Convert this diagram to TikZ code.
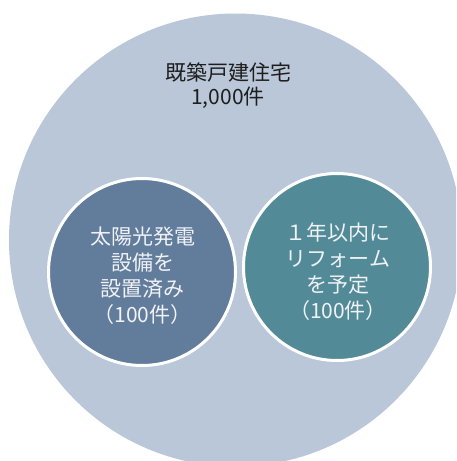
\documentclass[tikz,border=0pt]{standalone}
\usepackage{fontspec}
\setmainfont{Noto Sans CJK JP}
\definecolor{bigfill}{RGB}{185,199,216}
\definecolor{leftfill}{RGB}{98,124,155}
\definecolor{rightfill}{RGB}{82,139,151}
\definecolor{darktext}{RGB}{30,30,30}
\definecolor{lighttext}{RGB}{240,242,245}
\tikzset{
  bigcircle/.style={circle, fill=bigfill, inner sep=0pt, minimum size=453pt},
  subcircle/.style={circle, draw=white, line width=3pt, inner sep=0pt, minimum size=187pt},
  toplabel/.style={align=center, text=darktext, font=\fontsize{21}{24}\selectfont, inner sep=0pt},
  sublabel/.style={align=center, text=lighttext, font=\fontsize{21}{26}\selectfont, inner sep=0pt}
}
\begin{document}
\begin{tikzpicture}[x=1pt,y=-1pt]
\useasboundingbox (0,0) rectangle (456,461);
\clip (0,0) rectangle (456,461);
\fill[white] (0,0) rectangle (456,461);
\node[bigcircle] (all) at (235.5,240) {};
\node[subcircle, fill=leftfill] (solar) at (142,272) {};
\node[subcircle, fill=rightfill] (reform) at (337,267) {};
\node[toplabel] (alltext) at (228,86) {既築戸建住宅\\1,000件};
\node[sublabel] (solartext) at (142.5,276) {太陽光発電\\設備を\\設置済み\\（100件）};
\node[sublabel] (reformtext) at (338,272) {１年以内に\\リフォーム\\を予定\\（100件）};
\end{tikzpicture}
\end{document}
